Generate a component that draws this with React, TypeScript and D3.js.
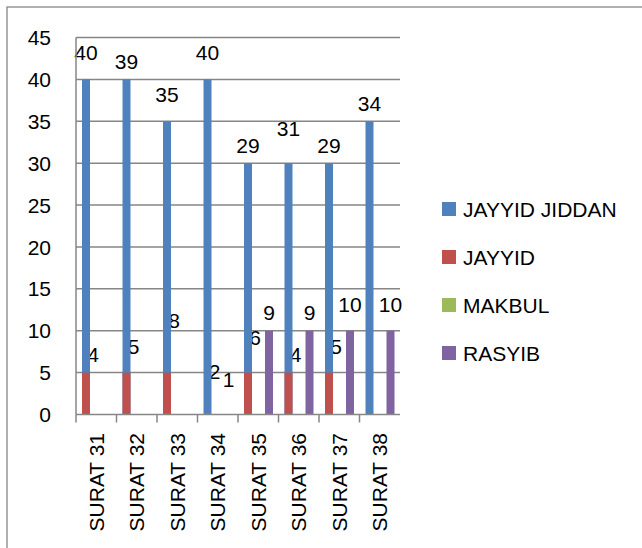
import React, { useEffect, useRef } from 'react';
import * as d3 from 'd3';

const categories = ['SURAT 31', 'SURAT 32', 'SURAT 33', 'SURAT 34', 'SURAT 35', 'SURAT 36', 'SURAT 37', 'SURAT 38'];
const seriesNames = ['JAYYID JIDDAN', 'JAYYID', 'MAKBUL', 'RASYIB'];
const seriesColors = ['#4F81BD', '#C0504D', '#9BBB59', '#8064A2'];

// bar heights as drawn
const jayyidJiddan = [40, 40, 35, 40, 30, 30, 30, 35];
const jayyid = [5, 5, 5, 0, 5, 5, 5, 0];
const makbul = [0, 0, 0, 0, 0, 0, 0, 0];
const rasyib = [0, 0, 0, 0, 10, 10, 10, 10];

// data labels as printed (they don't always match the bars)
const jayyidJiddanLabels = [40, 39, 35, 40, 29, 31, 29, 34];
const jayyidLabels = [4, 5, 8, 2, 6, 4, 5, null];
const makbulLabels = [null, null, null, null, null, null, null, null];
const rasyibLabels = [null, null, null, 1, 9, 9, 10, 10];

const yTicks = [0, 5, 10, 15, 20, 25, 30, 35, 40, 45];

const App = () => {
    const svgRef = useRef<SVGSVGElement>(null);

    useEffect(() => {
        const svg = d3.select(svgRef.current);
        svg.selectAll('*').remove();

        const width = 642;
        const height = 548;
        const plot = { left: 76, right: 400, top: 37.5, bottom: 414.5 };
        const font = "'Liberation Sans', Arial, sans-serif";
        const grey = '#868686';

        const values = [jayyidJiddan, jayyid, makbul, rasyib];
        const labels = [jayyidJiddanLabels, jayyidLabels, makbulLabels, rasyibLabels];
        // red bars sit on the blue slot in the picture
        const barSlot = ['JAYYID JIDDAN', 'JAYYID JIDDAN', 'MAKBUL', 'RASYIB'];

        const x = d3.scaleBand().domain(categories).range([plot.left, plot.right]).padding(0);
        const inner = d3.scalePoint().domain(seriesNames).range([10, 31]);
        const y = d3.scaleLinear().domain([0, 45]).range([plot.bottom, plot.top]);
        const barW = 8;

        svg.append('rect')
            .attr('width', width).attr('height', height).attr('fill', '#fff');

        // outer chart border
        svg.append('rect')
            .attr('x', 7).attr('y', 7)
            .attr('width', width + 20).attr('height', height + 20)
            .attr('fill', 'none').attr('stroke', grey).attr('stroke-width', 1.3);

        // gridlines
        svg.append('g').selectAll('line')
            .data(yTicks.filter(t => t > 0))
            .join('line')
            .attr('x1', plot.left).attr('x2', plot.right)
            .attr('y1', d => y(d)).attr('y2', d => y(d))
            .attr('stroke', grey).attr('stroke-width', 1.5);

        // y tick labels
        svg.append('g').selectAll('text')
            .data(yTicks)
            .join('text')
            .attr('x', 51)
            .attr('y', d => y(d))
            .attr('dy', '0.36em')
            .attr('text-anchor', 'end')
            .attr('font-family', font).attr('font-size', 21)
            .text(d => d);

        // data labels (drawn under bars)
        labels.forEach((arr, si) => {
            svg.append('g').selectAll('text')
                .data(arr.map((v, i) => ({ v, i })).filter(d => d.v !== null))
                .join('text')
                .attr('x', d => (x(categories[d.i]) as number) + (inner(seriesNames[si]) as number))
                .attr('y', d => y(d.v as number) - 19)
                .attr('text-anchor', 'middle')
                .attr('font-family', font).attr('font-size', 21)
                .attr('fill', '#000')
                .text(d => d.v as number);
        });

        // bars
        values.forEach((arr, si) => {
            svg.append('g').selectAll('rect')
                .data(arr.map((v, i) => ({ v, i })).filter(d => d.v > 0))
                .join('rect')
                .attr('x', d => (x(categories[d.i]) as number) + (inner(barSlot[si]) as number) - barW / 2)
                .attr('width', barW)
                .attr('y', d => y(d.v))
                .attr('height', d => y(0) - y(d.v))
                .attr('fill', seriesColors[si]);
        });

        // axes
        svg.append('line')
            .attr('x1', plot.left).attr('x2', plot.left)
            .attr('y1', plot.top).attr('y2', plot.bottom)
            .attr('stroke', grey).attr('stroke-width', 1.5);
        svg.append('line')
            .attr('x1', plot.left).attr('x2', plot.right)
            .attr('y1', y(0)).attr('y2', y(0))
            .attr('stroke', grey).attr('stroke-width', 1.5);
        svg.append('g').selectAll('line')
            .data(categories)
            .join('line')
            .attr('x1', d => x(d) as number).attr('x2', d => x(d) as number)
            .attr('y1', y(0)).attr('y2', y(0) + 8)
            .attr('stroke', grey).attr('stroke-width', 1.5);

        // category labels
        svg.append('g').selectAll('text')
            .data(categories)
            .join('text')
            .attr('transform', d => `translate(${(x(d) as number) + x.bandwidth() / 2},${433}) rotate(-90)`)
            .attr('dy', '0.36em')
            .attr('text-anchor', 'end')
            .attr('font-family', font).attr('font-size', 21)
            .text(d => d);

        // legend
        const legend = svg.append('g').selectAll('g')
            .data(seriesNames)
            .join('g')
            .attr('transform', (d, i) => `translate(442,${209 + i * 48})`);
        legend.append('rect')
            .attr('x', 0).attr('y', -7)
            .attr('width', 14).attr('height', 14)
            .attr('fill', (d, i) => seriesColors[i]);
        legend.append('text')
            .attr('x', 21).attr('y', 0)
            .attr('dy', '0.36em')
            .attr('font-family', font).attr('font-size', 21)
            .text(d => d);
    }, []);

    return (
        <svg ref={svgRef} width={642} height={548} style={{ position: 'absolute', left: 0, top: 0 }}></svg>
    );
};

export default App;
